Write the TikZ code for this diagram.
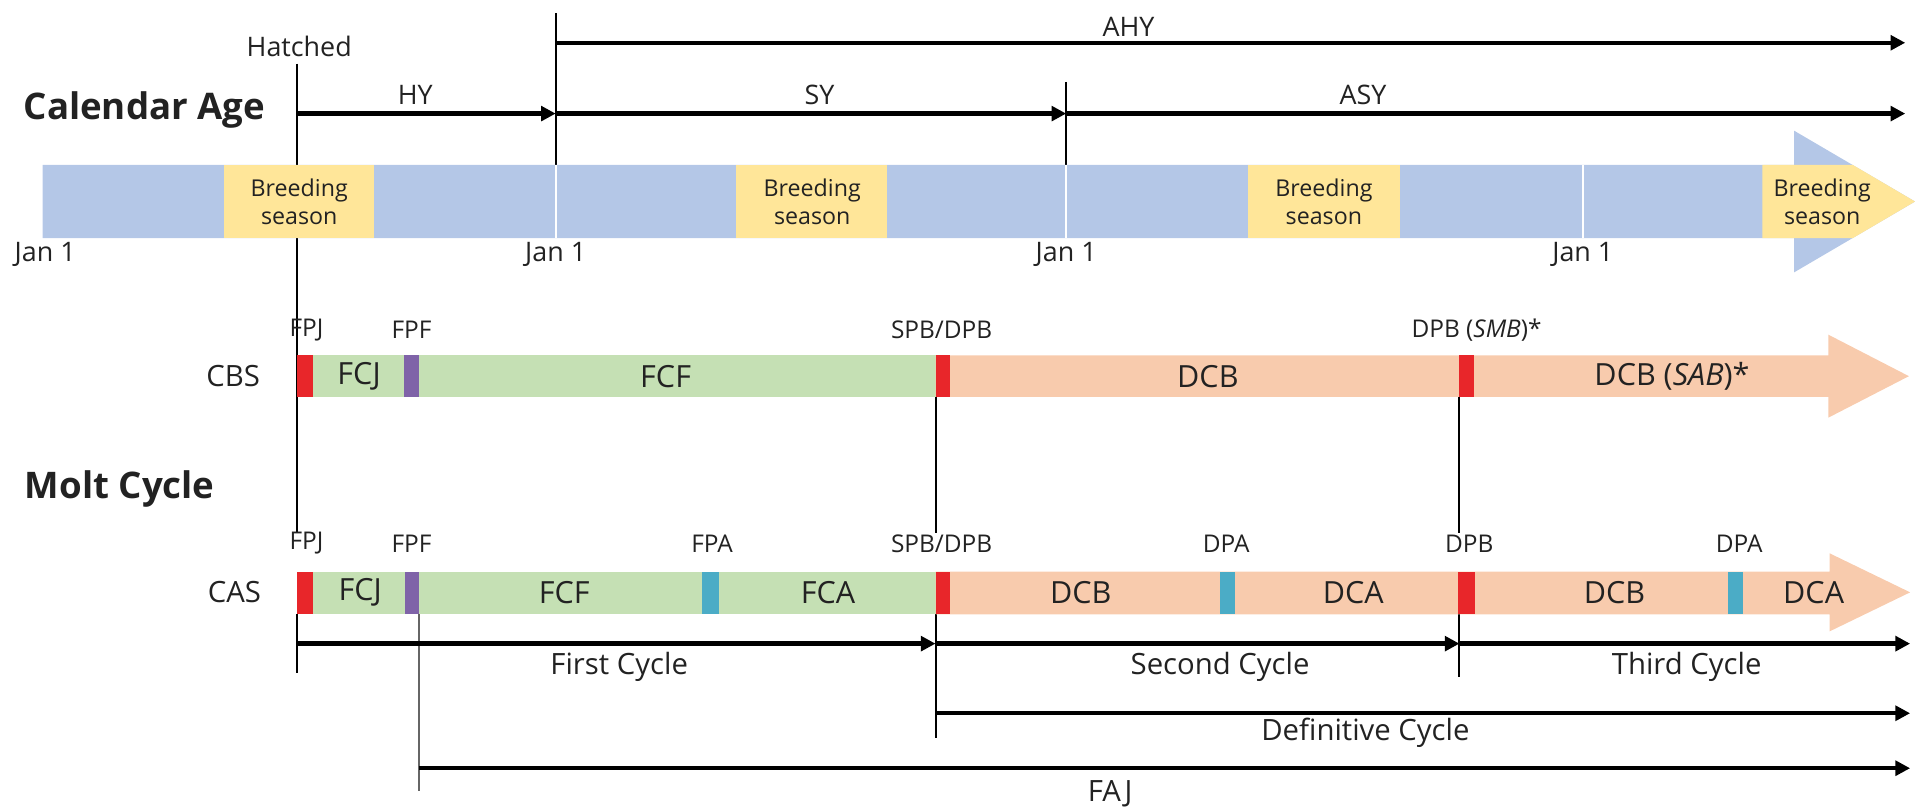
\documentclass[tikz,border=0pt]{standalone}
\usepackage{fontspec}
\setmainfont{Open Sans}
\usetikzlibrary{arrows.meta}
\definecolor{calblue}{HTML}{B4C7E7}
\definecolor{breedyel}{HTML}{FFE699}
\definecolor{molgreen}{HTML}{C5E0B4}
\definecolor{molsalmon}{HTML}{F8CBAD}
\definecolor{molred}{HTML}{E8262A}
\definecolor{molpurple}{HTML}{7F63A8}
\definecolor{molcyan}{HTML}{4BACC6}
\definecolor{txt}{HTML}{222222}
\tikzset{
  biglab/.style={font=\fontsize{15}{18}\selectfont\bfseries, anchor=west, inner sep=0pt, text=txt},
  agelab/.style={font=\fontsize{11}{13}\selectfont, inner sep=0pt, text=txt},
  breedlab/.style={font=\fontsize{9.5}{11.6}\selectfont, align=center, inner sep=0pt, text=txt},
  janlab/.style={font=\fontsize{11}{13}\selectfont, inner sep=0pt, text=txt},
  ticklab/.style={font=\fontsize{10}{12}\selectfont, inner sep=0pt, text=txt},
  barlab/.style={font=\fontsize{12.5}{15}\selectfont, inner sep=0pt, text=txt},
  rowlab/.style={font=\fontsize{12}{14}\selectfont, inner sep=0pt, text=txt},
  cyclab/.style={font=\fontsize{12}{14}\selectfont, inner sep=0pt, text=txt},
  timearrow/.style={line width=1.8pt, -{Triangle[length=6pt,width=6pt]}},
  guide/.style={line width=0.8pt},
  sepline/.style={white, line width=0.9pt}
}
\begin{document}
\begin{tikzpicture}[x=0.5pt,y=-0.5pt]
\useasboundingbox (0,0) rectangle (1568,660);

% ---------- coordinates ----------
\coordinate (hatTop) at (243,52);
\coordinate (hatBar) at (243,135);
\coordinate (janAtop) at (455,11);
\coordinate (janAbar) at (455,135);
\coordinate (janBtop) at (873,67);
\coordinate (janBbar) at (873,135);
\coordinate (ageHY) at (243,93);
\coordinate (ageSY) at (455,93);
\coordinate (ageASY) at (873,93);
\coordinate (ageEnd) at (1560,93);
\coordinate (ahyS) at (455,35);
\coordinate (ahyE) at (1560,35);

\coordinate (fpjA) at (243,195);
\coordinate (fpjB) at (243,436);
\coordinate (spbA) at (766,325);
\coordinate (spbB) at (766,436);
\coordinate (dpbA) at (1195,325);
\coordinate (dpbB) at (1195,436);

\coordinate (c1S) at (243,503);
\coordinate (c1E) at (243,551);
\coordinate (fajS) at (343,503);
\coordinate (fajE) at (343,648);
\coordinate (c2S) at (766,503);
\coordinate (c2E) at (766,604);
\coordinate (c3S) at (1195,503);
\coordinate (c3E) at (1195,554);

\coordinate (firstS) at (243,527);
\coordinate (secondS) at (766,527);
\coordinate (thirdS) at (1195,527);
\coordinate (thirdE) at (1564,527);
\coordinate (defS) at (766,584);
\coordinate (defE) at (1564,584);
\coordinate (fajA) at (343,629);
\coordinate (fajB) at (1564,629);

% ---------- guide lines ----------
\draw[guide] (hatTop) -- (hatBar);
\draw[guide] (janAtop) -- (janAbar);
\draw[guide] (janBtop) -- (janBbar);
\draw[guide] (fpjA) -- (fpjB);
\draw[guide] (spbA) -- (spbB);
\draw[guide] (dpbA) -- (dpbB);
\draw[guide] (c1S) -- (c1E);
\draw[guide, black!60] (fajS) -- (fajE);
\draw[guide] (c2S) -- (c2E);
\draw[guide] (c3S) -- (c3E);

% ---------- calendar bar ----------
\fill[calblue] (35,135) -- (1469,135) -- (1469,107) -- (1568,165) -- (1469,223) -- (1469,195) -- (35,195) -- cycle;
\fill[breedyel] (183,135) rectangle (306,195);
\fill[breedyel] (603,135) rectangle (726,195);
\fill[breedyel] (1022,135) rectangle (1146,195);
\fill[breedyel] (1443,135) -- (1517,135) -- (1568,165) -- (1517,195) -- (1443,195) -- cycle;
\draw[sepline] (455,135) -- (455,195);
\draw[sepline] (873,135) -- (873,195);
\draw[sepline] (1296,135) -- (1296,195);

\node[breedlab] (br1) at (245,165) {Breeding\\season};
\node[breedlab] (br2) at (665,165) {Breeding\\season};
\node[breedlab] (br3) at (1084,165) {Breeding\\season};
\node[breedlab] (br4) at (1492,165) {Breeding\\season};

\node[janlab] (jan0) at (37,208) {Jan 1};
\node[janlab] (jan1) at (455,208) {Jan 1};
\node[janlab] (jan2) at (873,208) {Jan 1};
\node[janlab] (jan3) at (1296,208) {Jan 1};

% ---------- age arrows ----------
\node[agelab] (hatched) at (245,38) {Hatched};
\node[biglab] (calage) at (19,90) {Calendar Age};
\draw[timearrow] (ahyS) -- (ahyE);
\draw[timearrow] (ageHY) -- (ageSY);
\draw[timearrow] (ageSY) -- (ageASY);
\draw[timearrow] (ageASY) -- (ageEnd);
\node[agelab] (ahy) at (924,22) {AHY};
\node[agelab] (hy) at (340,78) {HY};
\node[agelab] (sy) at (671,78) {SY};
\node[agelab] (asy) at (1116,78) {ASY};

% ---------- CBS ----------
\fill[molgreen] (243,291) rectangle (766,325);
\fill[molsalmon] (766,291) -- (1497,291) -- (1497,274) -- (1563,308) -- (1497,342) -- (1497,325) -- (766,325) -- cycle;
\fill[molred] (243,291) rectangle (256,325);
\fill[molpurple] (331,291) rectangle (343,325);
\fill[molred] (766,291) rectangle (778,325);
\fill[molred] (1195,291) rectangle (1207,325);

\node[rowlab] (cbs) at (191,308) {CBS};
\node[ticklab] (cbsfpj) at (251,270) {FPJ};
\node[ticklab] (cbsfpf) at (337,270) {FPF};
\node[ticklab] (cbsspb) at (771,270) {SPB/DPB};
\node[ticklab] (cbsdpb) at (1209,270) {DPB (\textit{SMB})*};
\node[barlab] (cbsfcj) at (294,308) {FCJ};
\node[barlab] (cbsfcf) at (545,308) {FCF};
\node[barlab] (cbsdcb) at (989,308) {DCB};
\node[barlab] (cbssab) at (1369,308) {DCB (\textit{SAB})*};

\node[biglab] (molt) at (20,400) {Molt Cycle};

% ---------- CAS ----------
\fill[molgreen] (243,468) rectangle (766,503);
\fill[molsalmon] (766,468) -- (1498,468) -- (1498,453) -- (1564,485) -- (1498,517) -- (1498,503) -- (766,503) -- cycle;
\fill[molred] (243,468) rectangle (256,503);
\fill[molpurple] (332,468) rectangle (343,503);
\fill[molcyan] (575,468) rectangle (589,503);
\fill[molred] (766,468) rectangle (778,503);
\fill[molcyan] (999,468) rectangle (1011,503);
\fill[molred] (1194,468) rectangle (1208,503);
\fill[molcyan] (1415,468) rectangle (1427,503);

\node[rowlab] (cas) at (192,485) {CAS};
\node[ticklab] (casfpj) at (251,445) {FPJ};
\node[ticklab] (casfpf) at (337,445) {FPF};
\node[ticklab] (casfpa) at (583,445) {FPA};
\node[ticklab] (casspb) at (771,445) {SPB/DPB};
\node[ticklab] (casdpa1) at (1004,445) {DPA};
\node[ticklab] (casdpb) at (1203,445) {DPB};
\node[ticklab] (casdpa2) at (1424,445) {DPA};
\node[barlab] (casfcj) at (295,485) {FCJ};
\node[barlab] (casfcf) at (462,485) {FCF};
\node[barlab] (casfca) at (678,485) {FCA};
\node[barlab] (casdcb1) at (885,485) {DCB};
\node[barlab] (casdca1) at (1108,485) {DCA};
\node[barlab] (casdcb2) at (1322,485) {DCB};
\node[barlab] (casdca2) at (1485,485) {DCA};

% ---------- cycle arrows ----------
\draw[timearrow] (firstS) -- (secondS);
\draw[timearrow] (secondS) -- (thirdS);
\draw[timearrow] (thirdS) -- (thirdE);
\draw[timearrow] (defS) -- (defE);
\draw[timearrow] (fajA) -- (fajB);

\node[cyclab] (first) at (507,546) {First Cycle};
\node[cyclab] (second) at (999,546) {Second Cycle};
\node[cyclab] (third) at (1381,546) {Third Cycle};
\node[cyclab] (defin) at (1118,600) {Definitive Cycle};
\node[cyclab] (faj) at (909,650) {FAJ};
\end{tikzpicture}
\end{document}
